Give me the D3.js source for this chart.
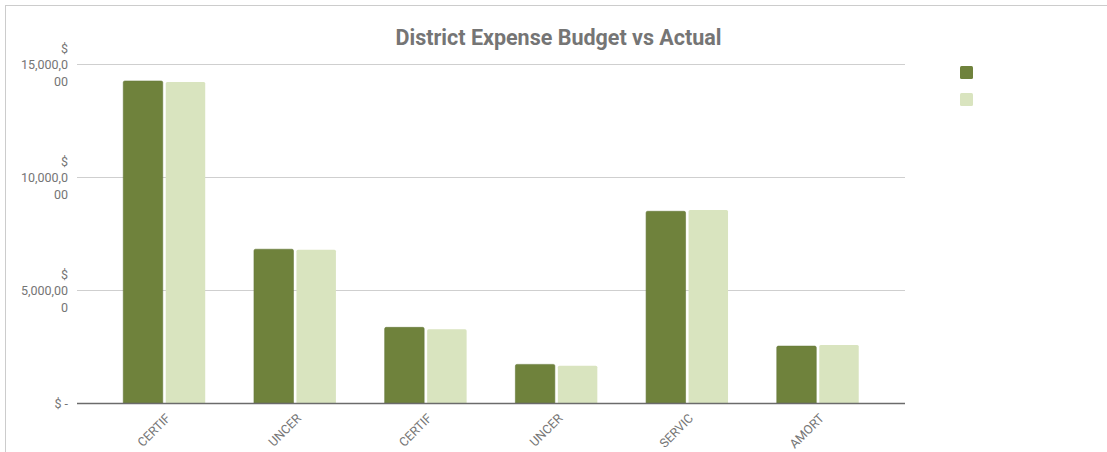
<!DOCTYPE html>
<html>
<head>
<meta charset="utf-8">
<script src="https://cdn.jsdelivr.net/npm/d3@7"></script>
<style>
  html, body { margin: 0; padding: 0; background: #fff; }
  svg { display: block; font-family: Roboto, "Noto Sans", sans-serif; }
</style>
</head>
<body>
<svg id="chart" width="1107" height="452"></svg>
<script>
// Expense lines (labels are shortened codes)
const categories = ["CERTIF", "UNCER", "CERTIF", "UNCER", "SERVIC", "AMORT"];
const seriesNames = ["Budget", "Actual"];
const budget = [14260, 6810, 3350, 1710, 8490, 2520];
const actual = [14215, 6790, 3265, 1650, 8545, 2570];
const yTicks = [0, 5000, 10000, 15000];
const yTickLines = [
  ["$ -"],
  ["$", "5,000,00", "0"],
  ["$", "10,000,0", "00"],
  ["$", "15,000,0", "00"]
];
const colors = ["#6f823c", "#d9e4bf"];

const svg = d3.select("#chart");

// outer frame
svg.append("rect")
  .attr("x", 5.5).attr("y", 5.5)
  .attr("width", 1200).attr("height", 600)
  .attr("fill", "none").attr("stroke", "#cccccc").attr("stroke-width", 1);

const plot = { left: 77, right: 905, top: 64, bottom: 403 };

const y = d3.scaleLinear().domain([0, 15000]).range([plot.bottom, plot.top + 0.3]);
const x = d3.scaleBand().domain(d3.range(categories.length))
  .range([plot.left, plot.right]).paddingInner(0.373).paddingOuter(0.354);

// gridlines
svg.append("g").selectAll("line").data(yTicks.filter(d => d > 0)).join("line")
  .attr("x1", plot.left).attr("x2", plot.right)
  .attr("y1", d => Math.round(y(d)) + 0.5).attr("y2", d => Math.round(y(d)) + 0.5)
  .attr("stroke", "#cfcfcf").attr("stroke-width", 1);

// y tick labels (wrapped)
const yl = svg.append("g").selectAll("text").data(yTicks).join("text")
  .attr("text-anchor", "end")
  .attr("font-size", 12.5)
  .attr("fill", "#757575")
  .attr("x", 68)
  .attr("y", (d, i) => y(d) + 4.5 - (yTickLines[i].length > 1 ? 16 : 0));
yl.each(function(d, i) {
  const t = d3.select(this);
  yTickLines[i].forEach((s, k) => {
    t.append("tspan").attr("x", 68).attr("dy", k === 0 ? 0 : 16.5).text(s);
  });
});

// bars
const gap = 3;
const barW = (x.bandwidth() - gap) / 2;
const r = 1.5;
function barPath(x0, w, yTop, yBot) {
  return `M${x0},${yBot}V${yTop + r}Q${x0},${yTop} ${x0 + r},${yTop}H${x0 + w - r}Q${x0 + w},${yTop} ${x0 + w},${yTop + r}V${yBot}Z`;
}
const seriesValues = [budget, actual];
seriesValues.forEach((vals, s) => {
  svg.append("g").selectAll("path").data(vals).join("path")
    .attr("d", (v, i) => barPath(x(i) + s * (barW + gap), barW, y(v), y(0)))
    .attr("fill", colors[s])
    .attr("stroke", s === 0 ? "#66783a" : "none")
    .attr("stroke-width", 0.6);
});

// baseline
svg.append("line")
  .attr("x1", plot.left).attr("x2", plot.right)
  .attr("y1", plot.bottom + 0.5).attr("y2", plot.bottom + 0.5)
  .attr("stroke", "#6b6b6b").attr("stroke-width", 1.5);

// x tick labels, rotated
svg.append("g").selectAll("text").data(categories).join("text")
  .attr("text-anchor", "end")
  .attr("font-size", 12.5)
  .attr("fill", "#757575")
  .attr("transform", (d, i) => `translate(${x(i) + x.bandwidth() / 2 + 7},${plot.bottom + 16}) rotate(-45)`)
  .text(d => d);

// title
svg.append("text")
  .attr("x", 558.5).attr("y", 44.5)
  .attr("text-anchor", "middle")
  .attr("font-size", 21.5)
  .attr("font-weight", "bold")
  .attr("fill", "#757575")
  .text("District Expense Budget vs Actual");

// legend swatches
svg.append("g").selectAll("rect").data(seriesNames).join("rect")
  .attr("x", 960).attr("y", (d, i) => 66 + i * 27)
  .attr("width", 13).attr("height", 13)
  .attr("rx", 1.5)
  .attr("fill", (d, i) => colors[i]);
</script>
</body>
</html>
